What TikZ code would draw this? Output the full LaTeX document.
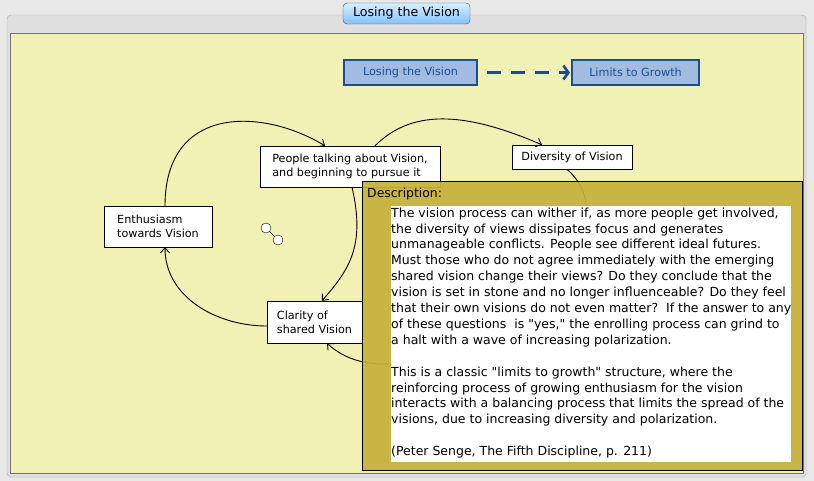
\documentclass[tikz,border=0pt]{standalone}
\usepackage{fontspec}
\setmainfont{DejaVu Sans}
\usetikzlibrary{positioning,arrows.meta}
\definecolor{WinGray}{RGB}{232,232,232}
\definecolor{PanelGray}{RGB}{223,223,223}
\definecolor{PaneYellow}{RGB}{241,240,181}
\definecolor{DescGold}{RGB}{198,176,58}
\definecolor{LinkBlue}{RGB}{30,76,148}
\definecolor{LinkFill}{RGB}{162,187,224}
\definecolor{TabTop}{RGB}{218,238,255}
\definecolor{TabBottom}{RGB}{128,194,255}
\definecolor{TabEdge}{RGB}{52,78,130}
\newcommand{\sq}{\XeTeXglyph\XeTeXglyphindex "quotedbl"\relax}

\begin{document}
\begin{tikzpicture}[
    x=1pt, y=-1pt,
    >={Straight Barb[length=5pt,width=9pt]},
    varbox/.style={
        draw,
        fill=white,
        align=left,
        inner sep=0pt,
        font=\fontsize{11.2}{14}\selectfont
    },
    linkbox/.style={
        draw=LinkBlue,
        line width=2pt,
        fill=LinkFill,
        text=LinkBlue,
        inner sep=0pt,
        minimum height=25pt,
        font=\fontsize{11.2}{14}\selectfont
    },
    loopmark/.style={
        circle,
        draw,
        fill=white,
        inner sep=0pt,
        minimum size=10pt
    },
    arrow/.style={
        ->,
        line width=0.9pt
    },
    linkarrow/.style={
        -{Straight Barb[length=5pt,width=14pt]},
        line width=2.6pt,
        draw=LinkBlue,
        dash pattern=on 14pt off 10pt
    }
]

% window and panel
\fill[WinGray] (0,0) rectangle (814,481);
\useasboundingbox (0,0) rectangle (814,481);
\draw[fill=PanelGray, draw=black!35, rounded corners=4pt] (7,15) rectangle (806,477);
\draw[fill=PaneYellow, draw=black!55] (10,33) rectangle (803,473);

\node[draw=TabEdge, rounded corners=4pt, top color=TabTop, bottom color=TabBottom,
      minimum width=127pt, minimum height=21pt, inner sep=0pt,
      font=\fontsize{12.6}{14}\selectfont] (tab) at (406.5,13.5) {Losing the Vision};

% archetype link
\node[linkbox, minimum width=133pt] (lv) at (410.5,72.5) {Losing the Vision};
\node[linkbox, minimum width=127pt] (lg) at (635.5,72.5) {Limits to Growth};
\draw[linkarrow] ([xshift=9pt]lv.east) -- ([xshift=-1pt]lg.west);

% variables
\node[varbox, minimum width=108pt, minimum height=41pt] (enth) at (158,226.5) {Enthusiasm\\towards Vision};
\node[varbox, minimum width=180pt, minimum height=41pt] (people) at (350,166.5) {People talking about Vision,\\and beginning to pursue it};
\node[varbox, minimum width=120pt, minimum height=24pt] (div) at (572,157) {Diversity of Vision};
\node[varbox, minimum width=95pt, minimum height=42pt] (clar) at (314.5,322) {Clarity of\\shared Vision};

\node[loopmark] (ra) at (266,228) {};
\node[loopmark] (rb) at (278,240) {};
\draw (ra) -- (rb);

% causal links
\draw[arrow] ([xshift=7pt]enth.north) .. controls +(0,-101) and +(-63,-38) .. ([xshift=-25pt]people.north);
\draw[arrow] ([xshift=25pt]people.north) .. controls +(40,-40) and +(-70,-30) .. ([xshift=-30pt]div.north);
\draw[arrow] ([xshift=2pt]people.south) .. controls +(14,60) and +(26,-30) .. ([xshift=7.5pt]clar.north);
\draw[arrow] ([yshift=-4pt]clar.west) .. controls +(-50,0) and +(0,50) .. ([xshift=7pt]enth.south);
\draw[arrow] ([xshift=-5pt]div.south) .. controls +(90,80) and +(85,80) .. ([xshift=12.5pt]clar.south);

% description
\node[draw, fill=DescGold, fill opacity=0.92, line width=0.9pt, minimum width=440pt, minimum height=289pt,
      inner sep=0pt] (descp) at (582,325.5) {};
\node[anchor=north west, inner sep=0pt, font=\fontsize{12.4}{14}\selectfont] (desclabel) at (367,188) {Description:};
\node[fill=white, minimum width=400pt, minimum height=256pt, inner sep=0pt] (descarea) at (591,334) {};
\node[anchor=north west, inner sep=0pt, align=left, font=\fontsize{12.5}{15.9}\selectfont] (desctext) at (391,207.5) {%
The vision process can wither if, as more people get involved,\\
the diversity of views dissipates focus and generates\\
unmanageable conflicts. People see different ideal futures.\\
Must those who do not agree immediately with the emerging\\
shared vision change their views? Do they conclude that the\\
vision is set in stone and no longer influenceable? Do they feel\\
that their own visions do not even matter?\ \ If the answer to any\\
of these questions\ \ is \sq yes,\sq{} the enrolling process can grind to\\
a halt with a wave of increasing polarization.\\[15.9pt]
This is a classic \sq limits to growth\sq{} structure, where the\\
reinforcing process of growing enthusiasm for the vision\\
interacts with a balancing process that limits the spread of the\\
visions, due to increasing diversity and polarization.\\[15.9pt]
(Peter Senge, The Fifth Discipline, p. 211)};

\end{tikzpicture}
\end{document}
